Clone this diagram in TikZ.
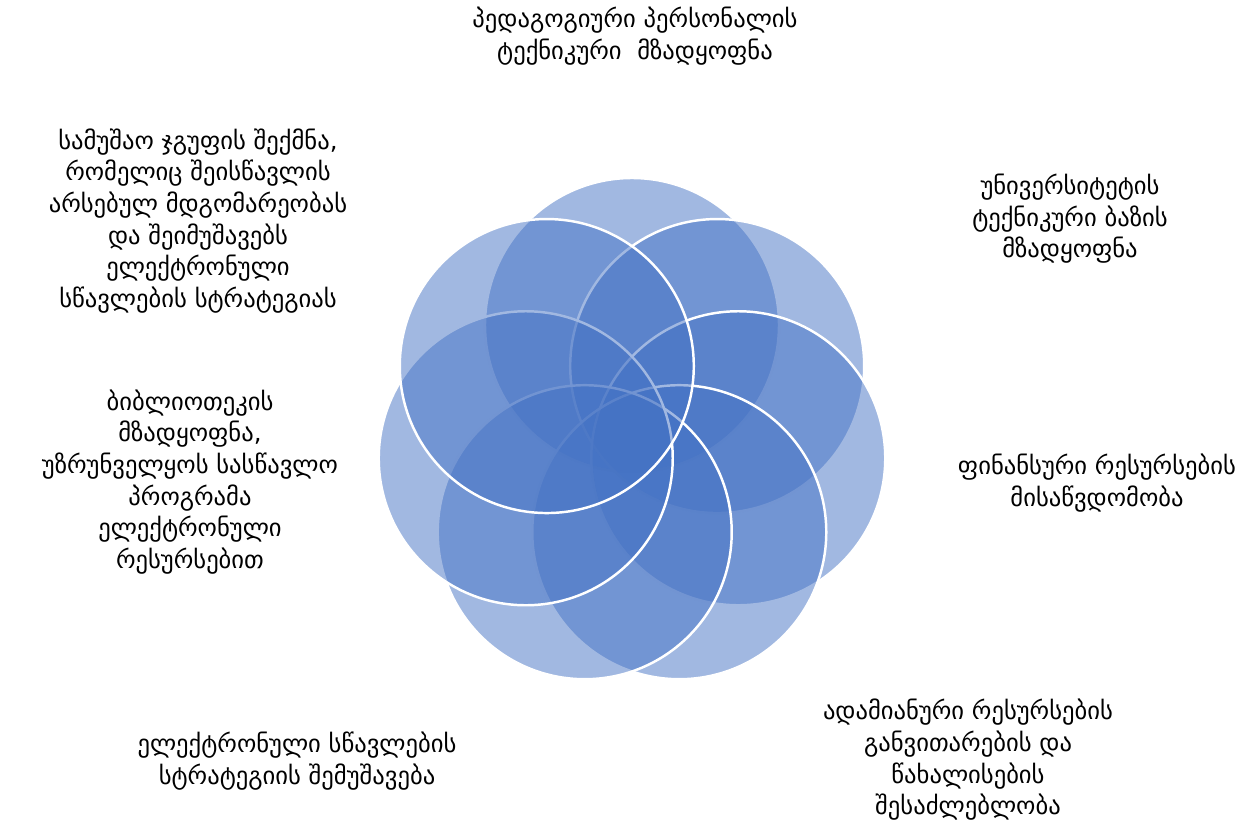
\documentclass[tikz,border=0pt]{standalone}
\usepackage{fontspec}
\setmainfont{DejaVu Sans}
\definecolor{petal}{HTML}{4472C4}

\begin{document}
\begin{tikzpicture}[x=0.02cm,y=-0.02cm,
  caption/.style={align=center,inner sep=0pt,font=\fontsize{14}{18}\selectfont},
  petalring/.style={draw=white,line width=1.4pt,fill=petal,fill opacity=0.5}]
  \useasboundingbox (0,0) rectangle (1249,824);
  % seven circles, clockwise from the top one
  \begin{scope}[shift={(632,434)}]
    \foreach \a in {270,321.43,372.86,424.29,475.71,527.14,578.57} {
      \draw[petalring] (\a:109) circle (147);
    }
  \end{scope}
  % texts round the circles
  \node[caption] (ttop) at (635,36) {პედაგოგიური პერსონალის\\ტექნიკური~ მზადყოფნა};
  \node[caption] (tnw) at (198,221) {სამუშაო ჯგუფის შექმნა,\\რომელიც შეისწავლის\\არსებულ მდგომარეობას\\და შეიმუშავებს\\ელექტრონული\\სწავლების სტრატეგიას};
  \node[caption] (tne) at (1070,219) {უნივერსიტეტის\\ტექნიკური ბაზის\\მზადყოფნა};
  \node[caption] (tw) at (190,482) {ბიბლიოთეკის\\მზადყოფნა,\\უზრუნველყოს სასწავლო\\პროგრამა\\ელექტრონული\\რესურსებით};
  \node[caption] (te) at (1097,483) {ფინანსური რესურსების\\მისაწვდომობა};
  \node[caption] (tse) at (968,760) {ადამიანური რესურსების\\განვითარების და\\წახალისების\\შესაძლებლობა};
  \node[caption] (tsw) at (297,761) {ელექტრონული სწავლების\\სტრატეგიის შემუშავება};
\end{tikzpicture}
\end{document}
